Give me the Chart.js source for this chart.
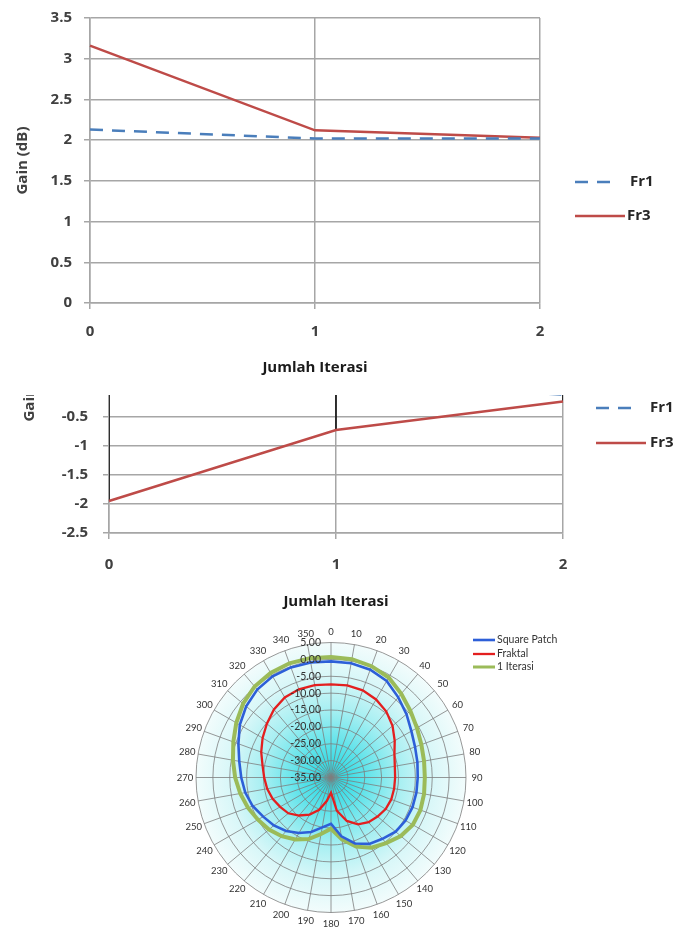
<!DOCTYPE html>
<html>
<head>
<meta charset="utf-8">
<script src="https://cdn.jsdelivr.net/npm/chart.js@4.4.0/dist/chart.umd.min.js"></script>
<style>
  html, body { margin: 0; padding: 0; background: #fff; }
  body { width: 681px; height: 929px; position: relative; overflow: hidden; }
  #gainChart { position: absolute; left: 0; top: 0; }
  #wrap2 { position: absolute; left: 0; top: 395px; width: 681px; height: 225px; overflow: hidden; }
  #gainChart2 { position: absolute; left: 0; top: -165px; }
  #polarChart { position: absolute; left: 0; top: 620px; }
</style>
</head>
<body>
<canvas id="gainChart" width="681" height="390"></canvas>
<div id="wrap2"><canvas id="gainChart2" width="681" height="390"></canvas></div>
<canvas id="polarChart" width="681" height="309"></canvas>

<script>
// gain vs iteration (top chart)
const iterasi = ['0', '1', '2'];
const gainFr1 = [2.13, 2.02, 2.02];
const gainFr3 = [3.16, 2.12, 2.03];

// second gain chart
const gain2Fr1 = [0.3, 0.1, -0.12];
const gain2Fr3 = [-1.95, -0.73, -0.24];

// radiation pattern (dB) every 10 degrees
const sudut = ['0', '10', '20', '30', '40', '50', '60', '70', '80', '90', '100', '110',
  '120', '130', '140', '150', '160', '170', '180', '190', '200', '210', '220', '230',
  '240', '250', '260', '270', '280', '290', '300', '310', '320', '330', '340', '350'];
const squarePatch = [-0.6, -0.6, -1.0, -2.0, -4.0, -5.8, -7.5, -8.5, -9.0, -9.3, -9.3, -9.3,
  -9.5, -10.0, -11.3, -12.3, -14.2, -17.3, -21.3, -20.0, -17.8, -16.0, -14.3, -12.9,
  -11.8, -10.3, -9.2, -8.4, -7.4, -5.8, -3.8, -2.2, -1.0, -0.4, -0.3, -0.4];
const fraktal = [-7.4, -7.3, -7.5, -8.3, -9.5, -11.2, -13.2, -15.0, -15.8, -16.0, -16.0, -16.0,
  -16.3, -17.0, -17.7, -19.0, -21.3, -25.0, -30.5, -28.0, -24.8, -22.3, -20.3, -18.5,
  -17.6, -16.6, -15.8, -15.2, -14.4, -13.0, -11.6, -10.2, -8.7, -7.6, -7.2, -7.2];
const iterasi1 = [0.7, 0.6, 0.1, -0.8, -2.6, -4.3, -5.6, -6.5, -7.0, -7.2, -7.0, -6.8,
  -7.0, -8.0, -9.6, -11.0, -13.2, -16.4, -19.8, -18.0, -15.6, -13.8, -12.3, -11.0,
  -10.0, -8.8, -7.7, -6.6, -5.5, -4.2, -2.6, -1.0, 0.2, 0.8, 1.0, 0.9];

Chart.defaults.font.family = 'Open Sans';

const BLUE = '#4a7ebb';
const RED = '#be4b48';
const GRID = '#a6a6a6';
const boldFont = { family: 'Open Sans', size: 15, weight: 'bold', lineHeight: 1.2 };

function sideLegend(x0, lens, textXs, ys) {
  return {
    id: 'sideLegend',
    afterDraw(chart) {
      const ctx = chart.ctx;
      chart.data.datasets.forEach((ds, i) => {
        ctx.save();
        ctx.strokeStyle = ds.borderColor;
        ctx.lineWidth = ds.borderWidth;
        ctx.setLineDash(ds.borderDash || []);
        ctx.beginPath();
        ctx.moveTo(x0, ys[i]);
        ctx.lineTo(x0 + lens[i], ys[i]);
        ctx.stroke();
        ctx.setLineDash([]);
        ctx.fillStyle = '#262626';
        ctx.font = 'bold 15px "Open Sans"';
        ctx.textBaseline = 'middle';
        ctx.fillText(ds.label, textXs[i], ys[i]);
        ctx.restore();
      });
    }
  };
}

function gainOptions(o) {
  return {
    responsive: false,
    animation: false,
    layout: { padding: { top: o.top, right: o.right, left: 0, bottom: 0 } },
    plugins: { legend: { display: false }, tooltip: { enabled: false } },
    scales: {
      x: {
        type: 'category',
        offset: false,
        grid: { color: GRID, lineWidth: 1.5, tickLength: 6, offset: false },
        border: { color: GRID, width: 1.5 },
        ticks: { font: boldFont, color: '#404040', padding: o.xPad },
        title: { display: true, text: 'Jumlah Iterasi', font: boldFont, color: '#1a1a1a',
                 padding: { top: 0, bottom: o.xTitlePad } },
        afterFit: s => { s.height = o.xHeight; }
      },
      y: {
        min: o.min, max: o.max,
        grid: { color: GRID, lineWidth: 1.5, tickLength: 6 },
        border: { color: GRID, width: 1.5 },
        ticks: { stepSize: 0.5, font: boldFont, color: '#404040', padding: o.yPad,
                 callback: v => String(Math.round(v * 10) / 10) },
        title: { display: true, text: 'Gain (dB)', font: boldFont, color: '#404040',
                 padding: { top: o.yTitlePad, bottom: 0 } },
        afterFit: s => { s.width = o.yWidth; s.paddingTop = 0; s.paddingBottom = 0; }
      }
    }
  };
}

new Chart(document.getElementById('gainChart'), {
  type: 'line',
  data: {
    labels: iterasi,
    datasets: [
      { label: 'Fr1', data: gainFr1, borderColor: BLUE, borderWidth: 2.5, borderDash: [13, 9],
        pointRadius: 0, tension: 0, fill: false },
      { label: 'Fr3', data: gainFr3, borderColor: RED, borderWidth: 2.5,
        pointRadius: 0, tension: 0, fill: false }
    ]
  },
  options: gainOptions({ top: 18, right: 141, min: 0, max: 3.5, xPad: 14, xTitlePad: 13,
                         xHeight: 87, yPad: 12, yTitlePad: 14, yWidth: 90 }),
  plugins: [sideLegend(575, [37, 50], [630, 627], [182, 216])]
});

// vertical high-low lines between the two series
const highLow = {
  id: 'highLow',
  beforeDatasetsDraw(chart) {
    const { ctx, chartArea, scales: { x, y } } = chart;
    const a = chart.data.datasets[0].data, b = chart.data.datasets[1].data;
    ctx.save();
    ctx.beginPath();
    ctx.rect(chartArea.left, chartArea.top, chartArea.width, chartArea.height);
    ctx.clip();
    ctx.strokeStyle = '#000';
    ctx.lineWidth = 1.5;
    a.forEach((v, i) => {
      const px = x.getPixelForValue(i);
      ctx.beginPath();
      ctx.moveTo(px, y.getPixelForValue(v));
      ctx.lineTo(px, y.getPixelForValue(b[i]));
      ctx.stroke();
    });
    ctx.restore();
  }
};

new Chart(document.getElementById('gainChart2'), {
  type: 'line',
  data: {
    labels: iterasi,
    datasets: [
      { label: 'Fr1', data: gain2Fr1, borderColor: BLUE, borderWidth: 2.5, borderDash: [13, 9],
        pointRadius: 0, tension: 0, fill: false },
      { label: 'Fr3', data: gain2Fr3, borderColor: RED, borderWidth: 2.5,
        pointRadius: 0, tension: 0, fill: false }
    ]
  },
  options: gainOptions({ top: 12, right: 118, min: -2.5, max: 2.5, xPad: 17, xTitlePad: 9,
                         xHeight: 87, yPad: 15, yTitlePad: 21, yWidth: 109 }),
  plugins: [highLow, sideLegend(596, [37, 50], [650, 650], [178, 213])]
});

// radiation pattern
const polarDecor = {
  id: 'polarDecor',
  beforeDraw(chart) {
    const r = chart.scales.r, ctx = chart.ctx;
    const g = ctx.createRadialGradient(r.xCenter, r.yCenter, 0, r.xCenter, r.yCenter, r.drawingArea);
    g.addColorStop(0, '#1ed6e0');
    g.addColorStop(0.25, '#5fe3ea');
    g.addColorStop(0.5, '#a6eff2');
    g.addColorStop(0.75, '#d8f7f8');
    g.addColorStop(1, '#f2fcfc');
    ctx.save();
    ctx.fillStyle = g;
    ctx.beginPath();
    ctx.arc(r.xCenter, r.yCenter, r.drawingArea, 0, Math.PI * 2);
    ctx.fill();
    ctx.restore();
  },
  afterDraw(chart) {
    const r = chart.scales.r, ctx = chart.ctx;
    ctx.save();
    ctx.fillStyle = '#333';
    ctx.font = '9.5px Lato';
    ctx.textAlign = 'center';
    ctx.textBaseline = 'middle';
    chart.data.labels.forEach((lbl, i) => {
      const p = r.getPointPosition(i, r.drawingArea + 11);
      ctx.fillText(lbl, p.x, p.y);
    });
    ctx.font = '10.5px Lato';
    ctx.textAlign = 'right';
    r.ticks.forEach(t => {
      const y = r.yCenter - r.getDistanceFromCenterForValue(t.value);
      ctx.fillText(t.value.toFixed(2), r.xCenter - 10, y);
    });
    // legend
    ctx.textAlign = 'left';
    ctx.font = '10.5px Lato';
    const ys = [20, 34, 47];
    chart.data.datasets.forEach((ds, i) => {
      ctx.strokeStyle = ds.borderColor;
      ctx.lineWidth = Math.min(ds.borderWidth, 3);
      ctx.beginPath();
      ctx.moveTo(473, ys[i]);
      ctx.lineTo(495, ys[i]);
      ctx.stroke();
      ctx.fillText(ds.label, 497, ys[i]);
    });
    ctx.restore();
  }
};

new Chart(document.getElementById('polarChart'), {
  type: 'radar',
  data: {
    labels: sudut,
    datasets: [
      { label: 'Square Patch', data: squarePatch, borderColor: '#2d5fd8', borderWidth: 2.6,
        pointRadius: 0, fill: false, tension: 0 },
      { label: 'Fraktal', data: fraktal, borderColor: '#e31f1f', borderWidth: 2.3,
        pointRadius: 0, fill: false, tension: 0 },
      { label: '1 Iterasi', data: iterasi1, borderColor: '#9bbb59', borderWidth: 4,
        pointRadius: 0, fill: false, tension: 0 }
    ]
  },
  options: {
    responsive: false,
    animation: false,
    plugins: { legend: { display: false }, tooltip: { enabled: false } },
    scales: {
      r: {
        min: -35, max: 5,
        ticks: { stepSize: 5, display: false },
        grid: { circular: true, color: '#7d7d7d', lineWidth: 0.8 },
        angleLines: { color: '#7d7d7d', lineWidth: 0.8 },
        pointLabels: { display: false },
        afterFit: s => { s.xCenter = 331; s.yCenter = 157.5; s.drawingArea = 135; }
      }
    }
  },
  plugins: [polarDecor]
});
</script>
</body>
</html>
